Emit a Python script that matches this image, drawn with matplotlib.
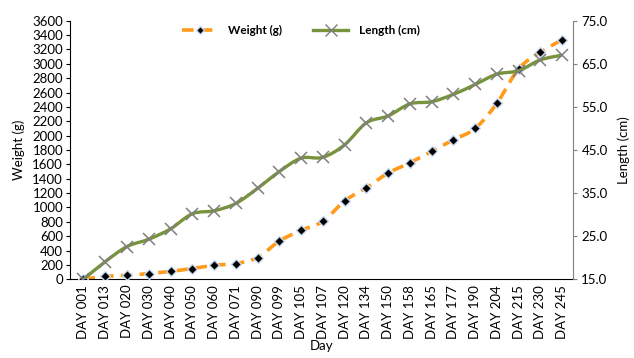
import numpy as np
import matplotlib
matplotlib.use("Agg")
from matplotlib import pyplot as plt
from matplotlib.path import Path
from matplotlib.patches import PathPatch
from matplotlib.lines import Line2D

plt.rcParams['font.family'] = ['Lato', 'DejaVu Sans']

days = ["DAY 001", "DAY 013", "DAY 020", "DAY 030", "DAY 040", "DAY 050", "DAY 060",
        "DAY 071", "DAY 090", "DAY 099", "DAY 105", "DAY 107", "DAY 120", "DAY 134",
        "DAY 150", "DAY 158", "DAY 165", "DAY 177", "DAY 190", "DAY 204", "DAY 215",
        "DAY 230", "DAY 245"]
weight = [0, 42, 56, 80, 111, 150, 195, 220, 302, 532, 681, 806, 1090, 1275,
          1478, 1622, 1780, 1942, 2100, 2450, 2930, 3160, 3335]
length = [15.0, 19.1, 22.6, 24.3, 26.7, 30.2, 30.9, 32.6, 36.1, 40.0, 43.1, 43.3,
          46.2, 51.3, 52.9, 55.7, 56.2, 57.9, 60.2, 62.6, 63.4, 65.9, 67.0]

orange = "#FF9A1A"
green = "#77933C"
fs = 9.5


def smooth_path(xs, ys):
    # excel-like smoothed line: cubic bezier with catmull-rom tangents
    xs = np.asarray(xs, float)
    ys = np.asarray(ys, float)
    verts = [(xs[0], ys[0])]
    codes = [Path.MOVETO]
    n = len(xs)
    for i in range(n - 1):
        x0, y0 = (xs[i - 1], ys[i - 1]) if i > 0 else (xs[i], ys[i])
        x3, y3 = (xs[i + 2], ys[i + 2]) if i + 2 < n else (xs[i + 1], ys[i + 1])
        c1 = (xs[i] + (xs[i + 1] - x0) / 6, ys[i] + (ys[i + 1] - y0) / 6)
        c2 = (xs[i + 1] - (x3 - xs[i]) / 6, ys[i + 1] - (y3 - ys[i]) / 6)
        verts += [c1, c2, (xs[i + 1], ys[i + 1])]
        codes += [Path.CURVE4] * 3
    return Path(verts, codes)


x = np.arange(len(days))

fig = plt.figure(figsize=(6.34, 3.58), dpi=100)
ax = fig.add_axes([0.1104, 0.2198, 0.7934, 0.7224])
ax2 = ax.twinx()

ax.add_patch(PathPatch(smooth_path(x, weight), fill=False, edgecolor=orange,
                       lw=2.6, linestyle=(0, (3.2, 2.0)), zorder=2))
ax.plot(x, weight, ls="none", marker="D", ms=5, mfc="black", mec="#C6D9F1",
        mew=1.0, zorder=3)

ax2.add_patch(PathPatch(smooth_path(x, length), fill=False, edgecolor=green,
                        lw=2.4, zorder=2))
ax2.plot(x, length, ls="none", marker="x", ms=8, mec="#7F7F7F", mew=1.1, zorder=3)

ax.set_xlim(-0.62, 22.5)
ax.set_ylim(0, 3600)
ax2.set_ylim(15, 75)
ax.set_yticks(range(0, 3601, 200))
ax2.set_yticks(range(15, 76, 10))
ax2.set_yticklabels(["{:.1f}".format(v) for v in range(15, 76, 10)])
ax.set_xticks(x)
ax.set_xticklabels(days, rotation=90)

ax.tick_params(axis="x", length=0, labelsize=fs, pad=4)
ax.tick_params(axis="y", length=3, labelsize=fs, pad=2)
ax2.tick_params(axis="y", length=3, labelsize=fs, color="#808080", pad=3)

for a in (ax, ax2):
    a.spines["top"].set_visible(False)
ax.spines["right"].set_visible(False)
ax2.spines["left"].set_visible(False)
ax2.spines["bottom"].set_visible(False)
ax2.spines["right"].set_color("#808080")

ax.set_xlabel("Day", fontsize=fs, labelpad=1)
ax.set_ylabel("Weight (g)", fontsize=fs, labelpad=5)
ax2.set_ylabel("Length (cm)", fontsize=fs, labelpad=7)

h1 = Line2D([], [], color=orange, lw=2.6, ls=(0, (3.2, 2.0)), marker="D", ms=4,
            mfc="black", mec="#C6D9F1")
h2 = Line2D([], [], color=green, lw=2.4, marker="x", ms=8, mec="#7F7F7F")
fig.legend([h1, h2], ["Weight (g)", "Length (cm)"], loc="center",
           bbox_to_anchor=(0.475, 0.915), ncol=2, frameon=False,
           prop={"weight": "bold", "size": 8.5}, handlelength=3.0,
           handletextpad=0.9, columnspacing=2.6)

fig.savefig("out.png", dpi=100)
